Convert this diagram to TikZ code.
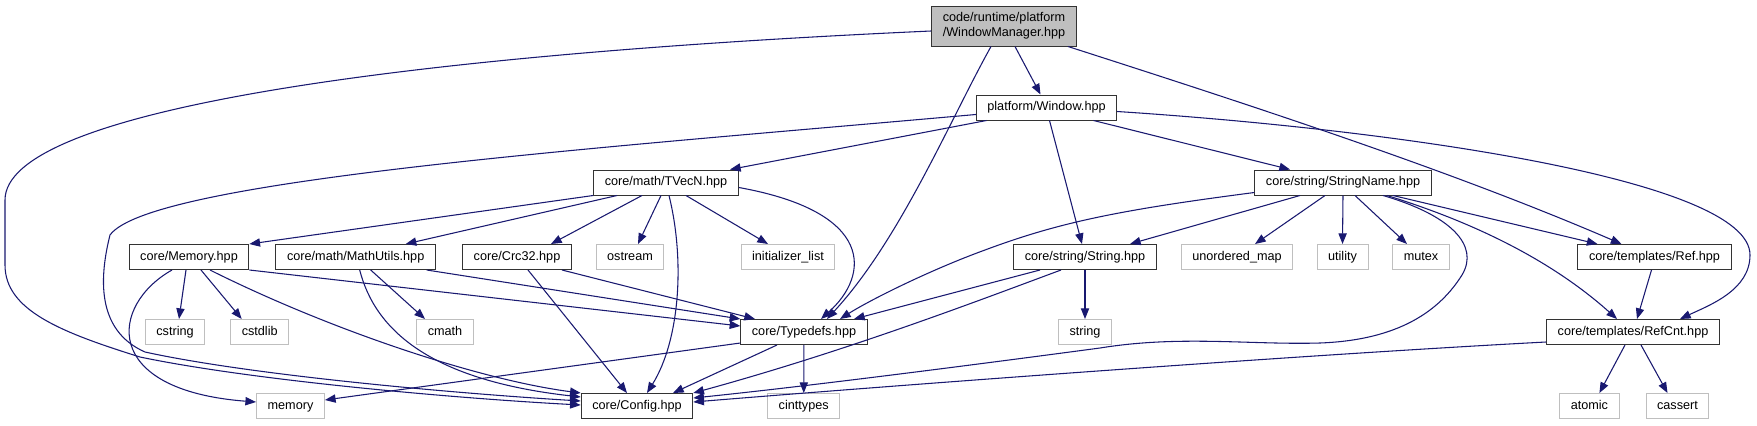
\documentclass[tikz,border=0pt]{standalone}
\usepackage{fontspec}
\setmainfont{Liberation Sans}
\usetikzlibrary{arrows.meta,calc}
\definecolor{edgeblue}{HTML}{191970}
\definecolor{sysgray}{HTML}{BFBFBF}

\begin{document}
\begin{tikzpicture}[x=0.75pt,y=-0.75pt,font=\fontsize{9.5}{11.25}\selectfont,
  hdr/.style={draw=black!80,fill=white,line width=0.75pt,inner xsep=8.3pt,inner ysep=0pt,
    minimum height=18.75pt,text height=7pt,text depth=2pt},
  syshdr/.style={hdr,draw=sysgray},
  mainhdr/.style={draw=black!80,fill=sysgray,line width=0.75pt,inner xsep=8.3pt,inner ysep=0pt,
    minimum height=30pt,align=left},
  inc/.style={edgeblue,line width=0.8pt,-{Triangle[length=8pt,width=6.2pt]}}]
  \useasboundingbox (0,0) rectangle (1757,425);

  % headers of the project
  \node[mainhdr] (wm) at (1004,26) {code/runtime/platform\\/WindowManager.hpp};
  \node[hdr] (win) at (1046.5,107.5) {platform/Window.hpp};
  \node[hdr] (tvec) at (666,182.5) {core/math/TVecN.hpp};
  \node[hdr] (sname) at (1343,182.5) {core/string/StringName.hpp};
  \node[hdr] (mem) at (189,257) {core/Memory.hpp};
  \node[hdr] (mutil) at (355.7,257) {core/math/MathUtils.hpp};
  \node[hdr] (crc) at (517,257) {core/Crc32.hpp};
  \node[hdr] (str) at (1085,257) {core/string/String.hpp};
  \node[hdr] (ref) at (1654.5,257) {core/templates/Ref.hpp};
  \node[hdr] (typ) at (804,332) {core/Typedefs.hpp};
  \node[hdr] (rcnt) at (1633,332) {core/templates/RefCnt.hpp};
  \node[hdr] (cfg) at (637,406) {core/Config.hpp};

  % system headers
  \foreach \nm/\x/\y/\lab in {ostr/630/257/ostream, initl/788/257/initializer\_list,
      umap/1237/257/unordered\_map, util/1342.5/257/utility, mutex/1421/257/mutex,
      cstring/175/332/cstring, cstdlib/259.7/332/cstdlib, cmath/445/332/cmath,
      strg/1085/332/string, memory/290.5/406/memory, cint/803.7/406/cinttypes,
      atomic/1589.4/406/atomic, cassert/1677.5/406/cassert}
    \node[syshdr] (\nm) at (\x,\y) {\lab};

  % WindowManager.hpp
  \draw[inc] ([shift={(0,5)}]wm.west) .. controls (400,55) and (5,110) .. (5,200) -- (5,265)
    .. controls (5,310) and (60,332) .. (140,357) .. controls (250,380) and (450,398) .. ([shift={(0,-1)}]cfg.west);
  \draw[inc] ([shift={(11,0)}]wm.south) -- ([shift={(-6,0)}]win.north);
  \draw[inc] ([shift={(-13,0)}]wm.south) .. controls (950,120) and (900,240) .. ([shift={(23,0)}]typ.north);
  \draw[inc] ([shift={(64,0)}]wm.south) .. controls (1250,105) and (1450,170) .. ([shift={(-33,0)}]ref.north);

  % Window.hpp
  \draw[inc] ([shift={(0,7)}]win.west) .. controls (600,148) and (150,180) .. (110,235)
    .. controls (100,275) and (95,330) .. (145,352) .. controls (250,375) and (450,393) .. ([shift={(0,-5)}]cfg.west);
  \draw[inc] ([shift={(-60,0)}]win.south) -- ([shift={(64,0)}]tvec.north);
  \draw[inc] ([shift={(3,0)}]win.south) -- ([shift={(-3,0)}]str.north);
  \draw[inc] ([shift={(47,0)}]win.south) -- ([shift={(-53,0)}]sname.north);
  \draw[inc] ([shift={(0,4)}]win.east) .. controls (1400,130) and (1750,180) .. (1750,255)
    .. controls (1750,290) and (1710,305) .. ([shift={(47,0)}]rcnt.north);

  % TVecN.hpp
  \draw[inc] (tvec.south west) -- (mem.north east);
  \draw[inc] ([shift={(-49,0)}]tvec.south) -- ([shift={(50,0)}]mutil.north);
  \draw[inc] ([shift={(-24,0)}]tvec.south) -- ([shift={(34,0)}]crc.north);
  \draw[inc] ([shift={(-5,0)}]tvec.south) -- ([shift={(8,0)}]ostr.north);
  \draw[inc] ([shift={(20,0)}]tvec.south) -- ([shift={(-20,0)}]initl.north);
  \draw[inc] ([shift={(0,5)}]tvec.east) .. controls (875,212) and (870,275) .. ([shift={(17,0)}]typ.north);
  \draw[inc] ([shift={(3,0)}]tvec.south) .. controls (685,260) and (680,340) .. ([shift={(10,0)}]cfg.north);

  % Memory.hpp
  \draw[inc] ([shift={(-3,0)}]mem.south) -- ([shift={(4,0)}]cstring.north);
  \draw[inc] ([shift={(12,0)}]mem.south) -- ([shift={(-18,0)}]cstdlib.north);
  \draw[inc] ([shift={(-17,0)}]mem.south) .. controls (110,305) and (100,390) .. ([shift={(0,-4)}]memory.west);
  \draw[inc] ([shift={(21,0)}]mem.south) .. controls (330,330) and (480,380) .. (cfg.north west);
  \draw[inc] (mem.south east) -- ([shift={(0,-6)}]typ.west);

  % MathUtils.hpp
  \draw[inc] ([shift={(15,0)}]mutil.south) -- ([shift={(-20,0)}]cmath.north);
  \draw[inc] ([shift={(4,0)}]mutil.south) .. controls (375,330) and (430,380) .. ([shift={(0,-9)}]cfg.west);
  \draw[inc] ([shift={(71,0)}]mutil.south) -- (typ.north west);

  % Crc32.hpp
  \draw[inc] ([shift={(45,0)}]crc.south) -- ([shift={(-49,0)}]typ.north);
  \draw[inc] ([shift={(11,0)}]crc.south) -- ([shift={(-10,0)}]cfg.north);

  % StringName.hpp
  \draw[inc] ([shift={(0,10)}]sname.west) .. controls (1120,210) and (1060,222) .. (985,250)
    .. controls (930,270) and (870,300) .. ([shift={(36,0)}]typ.north);
  \draw[inc] ([shift={(-43,0)}]sname.south) -- ([shift={(45,0)}]str.north);
  \draw[inc] ([shift={(-18,0)}]sname.south) -- ([shift={(18,0)}]umap.north);
  \draw[inc] (sname.south) -- (util.north);
  \draw[inc] ([shift={(12,0)}]sname.south) -- ([shift={(-14,0)}]mutex.north);
  \draw[inc] ([shift={(40,0)}]sname.south) .. controls (1450,215) and (1480,245) .. (1462,275)
    .. controls (1440,310) and (1400,340) .. (1320,343) .. controls (1250,345) and (1180,335) .. (1100,348)
    .. controls (950,368) and (800,387) .. ([shift={(0,-8)}]cfg.east);
  \draw[inc] ([shift={(50,0)}]sname.south) -- ([shift={(-57,0)}]ref.north);
  \draw[inc] ([shift={(44,0)}]sname.south) .. controls (1450,215) and (1540,250) .. ([shift={(-16,0)}]rcnt.north);

  % String.hpp
  \draw[inc] ([shift={(-45,0)}]str.south) -- ([shift={(50,0)}]typ.north);
  \draw[inc] ([shift={(-24,0)}]str.south) .. controls (980,300) and (850,350) .. (cfg.north east);
  \draw[inc] (str) -- (strg);

  % Typedefs.hpp
  \draw[inc] ([shift={(0,11)}]typ.west) -- ([shift={(0,-6)}]memory.east);
  \draw[inc] ([shift={(-27,0)}]typ.south) -- ([shift={(36,0)}]cfg.north);
  \draw[inc] (typ) -- (cint);

  % Ref.hpp, RefCnt.hpp
  \draw[inc] ([shift={(-3,0)}]ref.south) -- ([shift={(4,0)}]rcnt.north);
  \draw[inc] ([shift={(0,10)}]rcnt.west) .. controls (1300,355) and (900,385) .. ([shift={(0,-4)}]cfg.east);
  \draw[inc] ([shift={(-8,0)}]rcnt.south) -- ([shift={(10,0)}]atomic.north);
  \draw[inc] ([shift={(8,0)}]rcnt.south) -- ([shift={(-10,0)}]cassert.north);
\end{tikzpicture}
\end{document}
